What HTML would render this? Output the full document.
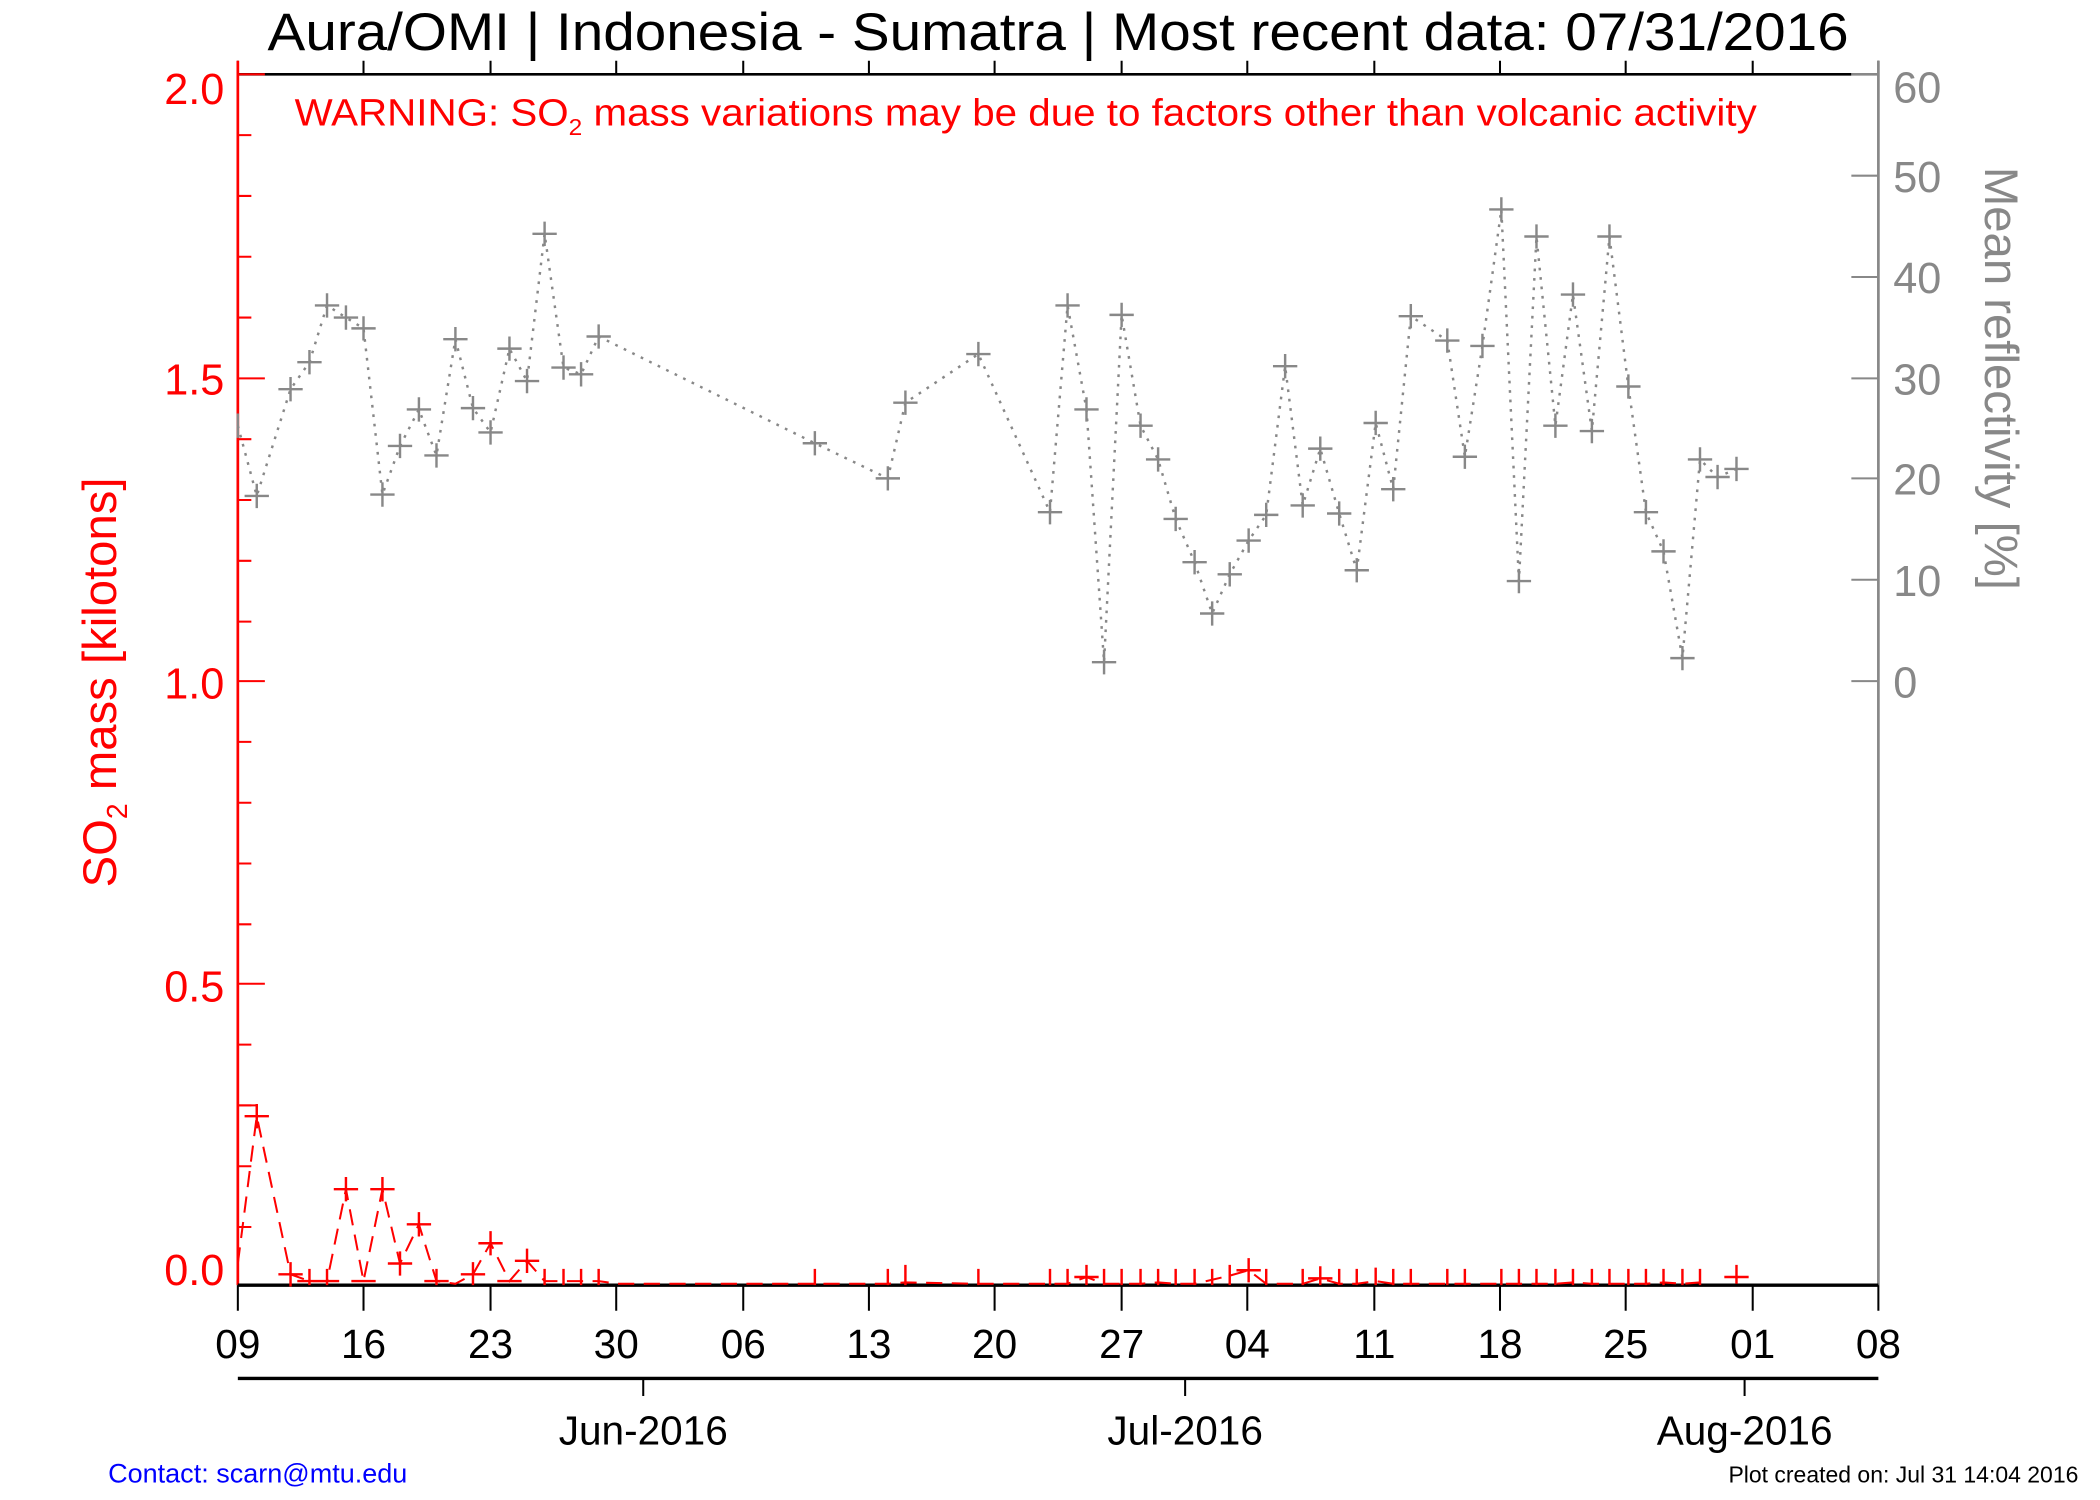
<!DOCTYPE html>
<html><head><meta charset="utf-8"><style>html,body{margin:0;padding:0;background:#fff}svg{display:block}</style></head><body>
<svg width="2100" height="1500" viewBox="0 0 1554 1110" preserveAspectRatio="none" xmlns="http://www.w3.org/2000/svg" font-family="Liberation Sans, sans-serif">
<rect width="1554" height="1110" fill="#fff"/>
<text x="198" y="37" font-size="39" textLength="1170" lengthAdjust="spacingAndGlyphs" fill="#000">Aura/OMI | Indonesia - Sumatra | Most recent data: 07/31/2016</text>
<text x="218" y="93" font-size="28" textLength="1082" lengthAdjust="spacingAndGlyphs" fill="#f00">WARNING: SO<tspan font-size="17" dy="7">2</tspan><tspan dy="-7"> mass variations may be due to factors other than volcanic activity</tspan></text>
<!-- top axis -->
<line x1="176" y1="55" x2="1370" y2="55" stroke="#000" stroke-width="2"/>
<line x1="1370" y1="55" x2="1390" y2="55" stroke="#888" stroke-width="2"/>
<g stroke="#000" stroke-width="1.5">
<path d="M176 45V55M269 45V55M363 45V55M456 45V55M550 45V55M643 45V55M736 45V55M830 45V55M923 45V55M1017 45V55M1110 45V55M1203 45V55M1297 45V55M1390 45V55"/>
</g>
<!-- left axis -->
<line x1="176" y1="45" x2="176" y2="951" stroke="#f00" stroke-width="2"/>
<g stroke="#f00" stroke-width="1.5">
<path d="M176 55h20M176 280h20M176 504h20M176 728h20M176 951h20"/>
<path d="M176 100h10M176 145h10M176 190h10M176 235h10M176 325h10M176 370h10M176 415h10M176 460h10M176 549h10M176 594h10M176 639h10M176 684h10M176 773h10M176 818h10M176 863h10M176 908h10"/>
</g>
<g fill="#f00" font-size="32" text-anchor="end">
<text x="166" y="77">2.0</text><text x="166" y="292">1.5</text><text x="166" y="517">1.0</text><text x="166" y="741">0.5</text><text x="166" y="951">0.0</text>
</g>
<text transform="translate(86,505) rotate(-90)" font-size="35" fill="#f00" text-anchor="middle">SO<tspan font-size="21" dy="8">2</tspan><tspan dy="-8"> mass [kilotons]</tspan></text>
<!-- right axis -->
<line x1="1390" y1="45" x2="1390" y2="951" stroke="#888" stroke-width="2"/>
<g stroke="#888" stroke-width="1.5"><path d="M1370 130h20M1370 205h20M1370 280h20M1370 354h20M1370 429h20M1370 504h20"/></g>
<g fill="#888" font-size="32">
<text x="1401" y="76">60</text><text x="1401" y="142">50</text><text x="1401" y="217">40</text><text x="1401" y="292">30</text><text x="1401" y="366">20</text><text x="1401" y="441">10</text><text x="1401" y="516">0</text>
</g>
<text transform="translate(1469,280) rotate(90)" font-size="35" fill="#888" text-anchor="middle">Mean reflectivity [%]</text>
<!-- bottom axis -->
<line x1="176" y1="951" x2="1390" y2="951" stroke="#000" stroke-width="2.5"/>
<g stroke="#000" stroke-width="1.5">
<path d="M176 951V970M269 951V970M363 951V970M456 951V970M550 951V970M643 951V970M736 951V970M830 951V970M923 951V970M1017 951V970M1110 951V970M1203 951V970M1297 951V970M1390 951V970"/>
</g>
<g font-size="30" text-anchor="middle" fill="#000">
<text x="176" y="1005">09</text><text x="269" y="1005">16</text><text x="363" y="1005">23</text><text x="456" y="1005">30</text><text x="550" y="1005">06</text><text x="643" y="1005">13</text><text x="736" y="1005">20</text><text x="830" y="1005">27</text><text x="923" y="1005">04</text><text x="1017" y="1005">11</text><text x="1110" y="1005">18</text><text x="1203" y="1005">25</text><text x="1297" y="1005">01</text><text x="1390" y="1005">08</text>
</g>
<line x1="176" y1="1020" x2="1390" y2="1020" stroke="#000" stroke-width="2.5"/>
<path d="M476 1020V1033M877 1020V1033M1291 1020V1033" stroke="#000" stroke-width="1.5"/>
<g font-size="30" text-anchor="middle" fill="#000">
<text x="476" y="1069">Jun-2016</text><text x="877" y="1069">Jul-2016</text><text x="1291" y="1069">Aug-2016</text>
</g>
<text x="80" y="1097" font-size="20" fill="#00f">Contact: scarn@mtu.edu</text>
<text x="1538" y="1097" font-size="17" fill="#000" text-anchor="end">Plot created on: Jul 31 14:04 2016</text>
<!-- gray series -->
<polyline fill="none" stroke="#888" stroke-width="1.8" stroke-dasharray="2,5" points="176,315 190,367 215,288 229,268 242,226 256,235 269,243 283,366 296,330 310,303 323,337 337,251 350,302 363,320 377,258 390,282 403,173 417,272 430,277 443,249 603,328 657,354 670,298 724,262 777,379 790,226 804,303 817,490 830,233 844,315 857,340 870,384 884,416 897,454 910,425 924,400 937,381 951,271 964,374 977,332 991,380 1004,422 1018,313 1031,362 1044,234 1071,252 1084,338 1097,256 1111,155 1124,430 1137,175 1151,315 1164,218 1178,319 1191,175 1205,286 1218,379 1231,408 1245,487 1258,340 1271,353 1285,347"/>
<path fill="none" stroke="#888" stroke-width="1.8" d="M176 306v18M181 367h18M190 358v18M206 288h18M215 279v18M220 268h18M229 259v18M233 226h18M242 217v18M247 235h18M256 226v18M260 243h18M269 234v18M274 366h18M283 357v18M287 330h18M296 321v18M301 303h18M310 294v18M314 337h18M323 328v18M328 251h18M337 242v18M341 302h18M350 293v18M354 320h18M363 311v18M368 258h18M377 249v18M381 282h18M390 273v18M394 173h18M403 164v18M408 272h18M417 263v18M421 277h18M430 268v18M434 249h18M443 240v18M594 328h18M603 319v18M648 354h18M657 345v18M661 298h18M670 289v18M715 262h18M724 253v18M768 379h18M777 370v18M781 226h18M790 217v18M795 303h18M804 294v18M808 490h18M817 481v18M821 233h18M830 224v18M835 315h18M844 306v18M848 340h18M857 331v18M861 384h18M870 375v18M875 416h18M884 407v18M888 454h18M897 445v18M901 425h18M910 416v18M915 400h18M924 391v18M928 381h18M937 372v18M942 271h18M951 262v18M955 374h18M964 365v18M968 332h18M977 323v18M982 380h18M991 371v18M995 422h18M1004 413v18M1009 313h18M1018 304v18M1022 362h18M1031 353v18M1035 234h18M1044 225v18M1062 252h18M1071 243v18M1075 338h18M1084 329v18M1088 256h18M1097 247v18M1102 155h18M1111 146v18M1115 430h18M1124 421v18M1128 175h18M1137 166v18M1142 315h18M1151 306v18M1155 218h18M1164 209v18M1169 319h18M1178 310v18M1182 175h18M1191 166v18M1196 286h18M1205 277v18M1209 379h18M1218 370v18M1222 408h18M1231 399v18M1236 487h18M1245 478v18M1249 340h18M1258 331v18M1262 353h18M1271 344v18M1276 347h18M1285 338v18"/>
<!-- red series -->
<polyline fill="none" stroke="#f00" stroke-width="1.5" stroke-dasharray="12,7" points="176,935 190,826 215,943 229,948 242,948 256,880 269,948 283,880 296,935 310,906 323,948 337,950 350,943 363,920 377,948 390,933 403,948 417,948 430,948 443,948 457,950 483,950 510,950 550,950 590,950 603,950 657,950 670,949 724,950 777,950 790,950 804,945 817,950 830,950 844,950 857,949 870,950 884,950 897,947 910,944 924,940 937,950 951,950 964,950 977,946 991,950 1004,950 1018,948 1031,950 1044,950 1071,950 1084,950 1111,950 1124,950 1151,950 1164,949 1178,950 1205,950 1218,950 1231,949 1245,950 1258,949"/>
<path d="M176 818h14v10" fill="none" stroke="#f00" stroke-width="1.5"/>
<path fill="none" stroke="#f00" stroke-width="1.8" d="M181 826h18M190 817v18M206 943h18M215 934v18M220 948h18M229 939v12M233 948h18M242 939v12M247 880h18M256 871v18M260 948h18M274 880h18M283 871v18M287 935h18M296 926v18M301 906h18M310 897v18M314 948h18M323 939v12M341 943h18M350 934v17M354 920h18M363 911v18M368 948h18M390 924v18M381 933h18M403 939v12M417 939v12M430 939v12M443 939v12M603 939v12M657 939v12M670 936v15M724 939v12M777 939v12M790 939v12M795 945h18M804 936v15M817 939v12M830 939v12M844 939v12M857 939v12M870 939v12M884 939v12M897 939v12M910 936v15M915 940h18M924 931v18M937 939v12M964 939v12M968 946h18M977 937v14M991 939v12M1004 939v12M1018 938v13M1031 939v12M1044 939v12M1071 939v12M1084 939v12M1111 939v12M1124 939v12M1137 939v12M1151 939v12M1164 939v12M1178 939v12M1191 939v12M1205 939v12M1218 939v12M1231 939v12M1245 939v12M1258 939v12M1276 945h18M1285 936v14"/>
</svg>
</body></html>
